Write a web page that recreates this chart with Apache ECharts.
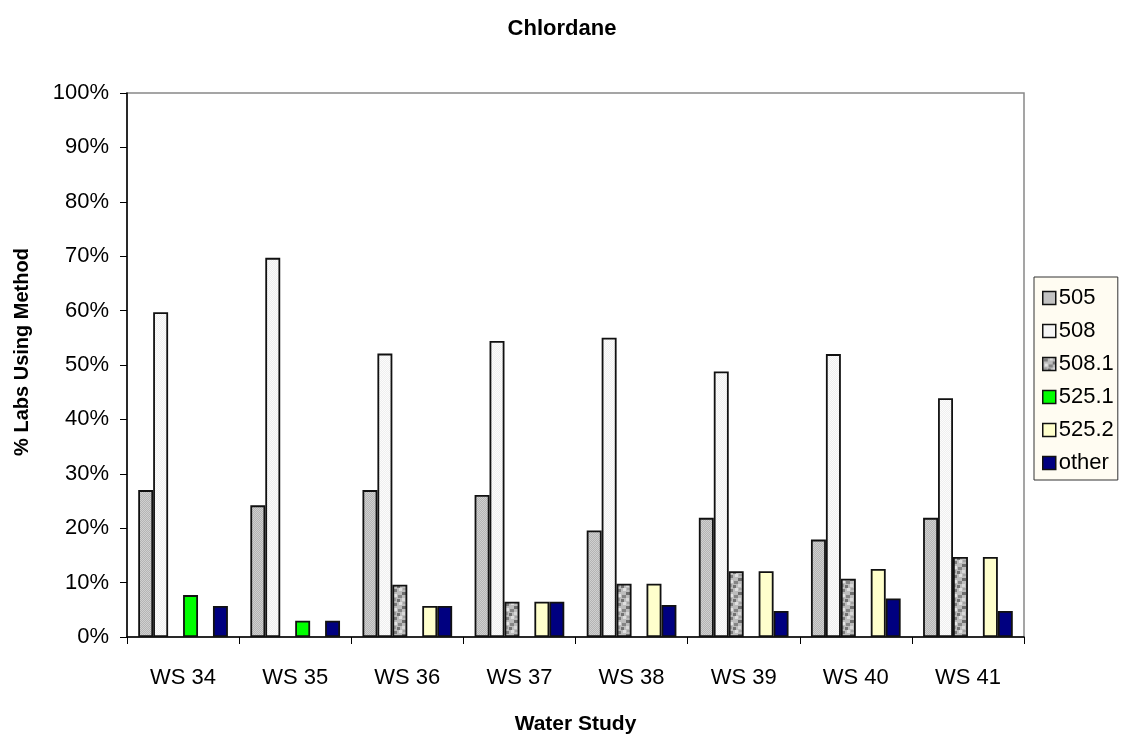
<!DOCTYPE html>
<html>
<head>
<meta charset="utf-8">
<script src="https://cdn.jsdelivr.net/npm/echarts@6/dist/echarts.min.js"></script>
<style>
html,body{margin:0;padding:0;background:#fff;}
#c{width:1124px;height:740px;}
</style>
</head>
<body>
<div id="c"></div>
<script>
// ---- data ----
const categories = ['WS 34','WS 35','WS 36','WS 37','WS 38','WS 39','WS 40','WS 41'];
const seriesNames = ['505','508','508.1','525.1','525.2','other'];
const v505  = [27.0, 24.2, 27.0, 26.1, 19.6, 21.9, 17.9, 21.9];
const v508  = [59.7, 69.7, 52.1, 54.4, 55.0, 48.8, 52.0, 43.9];
const v5081 = [null, null, 9.6, 6.5, 9.8, 12.1, 10.7, 14.7];
const v5251 = [7.7, 3.0, null, null, null, null, null, null];
const v5252 = [null, null, 5.7, 6.5, 9.8, 12.1, 12.5, 14.7];
const vOther = [5.7, 3.0, 5.7, 6.5, 5.9, 4.8, 7.1, 4.8];
const yTicks = {min: 0, max: 100, interval: 10};

// ---- fill patterns ----
function checker(a, b) {
  const c = document.createElement('canvas'); c.width = 2; c.height = 2;
  const g = c.getContext('2d');
  g.fillStyle = a; g.fillRect(0,0,2,2);
  g.fillStyle = b; g.fillRect(0,0,1,1); g.fillRect(1,1,1,1);
  return {image: c, repeat: 'repeat'};
}
function mottled() {
  const c = document.createElement('canvas'); c.width = 14; c.height = 14;
  const g = c.getContext('2d');
  g.fillStyle = '#bcbcbc'; g.fillRect(0,0,14,14);
  const spots = [[1,1,4,3,'#7c7c7c'],[7,0,3,3,'#dedede'],[10,4,4,3,'#6e6e6e'],[2,6,3,3,'#e2e2e2'],
                 [6,7,4,3,'#858585'],[0,10,4,3,'#9a9a9a'],[10,10,3,3,'#d8d8d8'],[5,11,3,3,'#737373'],[11,0,3,2,'#a4a4a4']];
  spots.forEach(s => { g.fillStyle = s[4]; g.fillRect(s[0], s[1], s[2], s[3]); });
  return {image: c, repeat: 'repeat'};
}
const fills = [
  checker('#b4b4b4', '#d0d0d0'),
  checker('#efefef', '#fcfcfc'),
  mottled(),
  '#00ff00',
  '#ffffcc',
  '#000080'
];
const values = [v505, v508, v5081, v5251, v5252, vOther];

const FONT = 'Liberation Sans, Arial, sans-serif';
const chart = echarts.init(document.getElementById('c'), null, {renderer: 'canvas'});
chart.setOption({
  animation: false,
  backgroundColor: '#ffffff',
  title: {
    text: 'Chlordane', left: 'center', top: 13,
    textStyle: {fontFamily: FONT, fontSize: 22, fontWeight: 'bold', color: '#000'}
  },
  legend: {
    orient: 'vertical', left: 1034, top: 277,
    itemWidth: 13, itemHeight: 13, itemGap: 11,
    padding: [10, 4, 6, 8],
    backgroundColor: '#fffcf2', borderColor: '#333', borderWidth: 1,
    textStyle: {fontFamily: FONT, fontSize: 22, color: '#000', padding: [0,0,0,-2]},
    icon: 'rect',
    itemStyle: {borderColor: '#111', borderWidth: 1.5},
    data: seriesNames
  },
  grid: {left: 127, right: 100, top: 93, bottom: 96, show: true, borderColor: '#888', borderWidth: 1.5, backgroundColor: 'transparent'},
  graphic: [{
    type: 'text', x: 22, y: 352, rotation: Math.PI / 2,
    style: {text: '% Labs Using Method', fontFamily: FONT, fontSize: 20, fontWeight: 'bold', fill: '#000',
            textAlign: 'center', textVerticalAlign: 'middle'}
  }],
  xAxis: {
    type: 'category', data: categories,
    name: 'Water Study', nameLocation: 'middle', nameGap: 77,
    nameTextStyle: {fontFamily: FONT, fontSize: 21, fontWeight: 'bold', color: '#000'},
    axisLine: {lineStyle: {color: '#000', width: 1.5}},
    axisTick: {show: true, length: 7, alignWithLabel: false, lineStyle: {color: '#000'}},
    axisLabel: {fontFamily: FONT, fontSize: 22, color: '#000', margin: 30},
    splitLine: {show: false}
  },
  yAxis: {
    type: 'value', min: yTicks.min, max: yTicks.max, interval: yTicks.interval,
    axisLine: {show: true, lineStyle: {color: '#000', width: 1.5}},
    axisTick: {show: true, length: 7, lineStyle: {color: '#000'}},
    axisLabel: {fontFamily: FONT, fontSize: 22, color: '#000', margin: 18, formatter: '{value}%'},
    splitLine: {show: false}
  },
  series: seriesNames.map((n, i) => ({
    name: n, type: 'bar', data: values[i],
    barGap: '0%', barCategoryGap: '20%',
    itemStyle: {color: fills[i], borderColor: '#111', borderWidth: 1.8}
  }))
});
</script>
</body>
</html>
